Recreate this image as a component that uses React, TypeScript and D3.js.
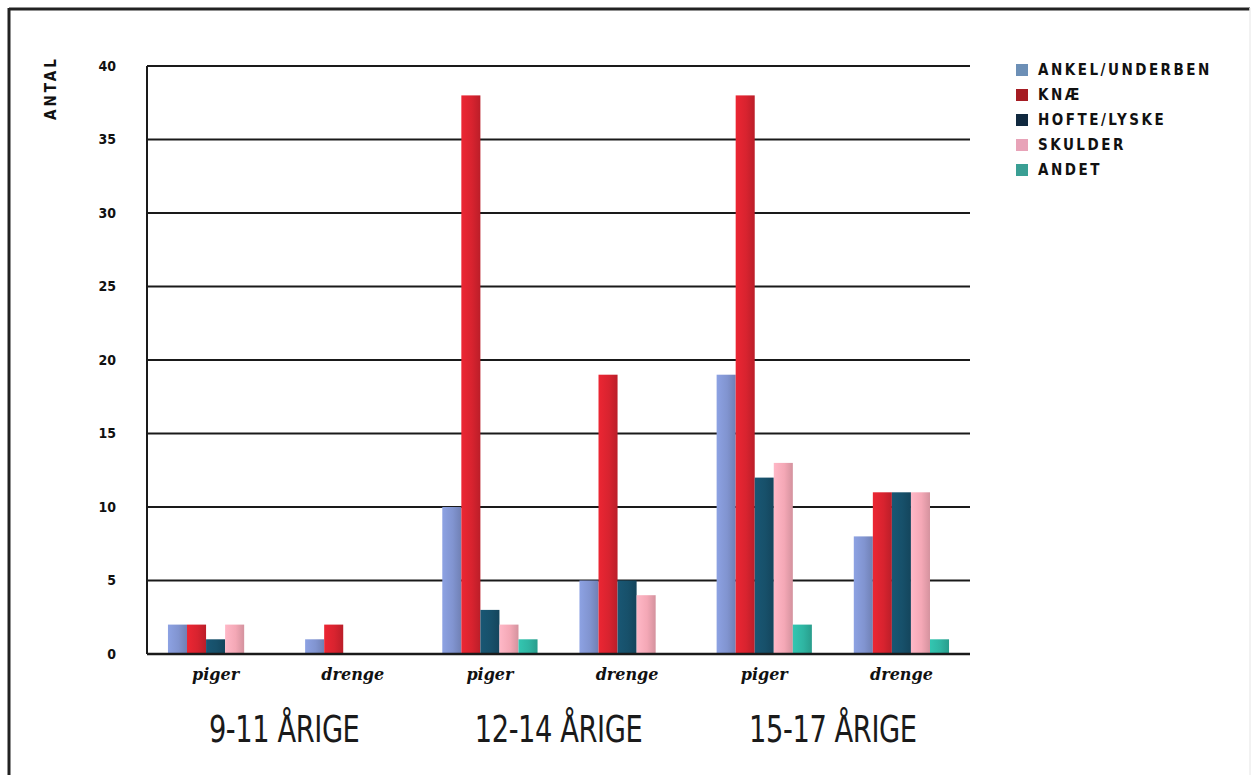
import React, { useEffect, useRef } from "react";
import * as d3 from "d3";

// categories along the x axis
const groups = ["9-11 piger", "9-11 drenge", "12-14 piger", "12-14 drenge", "15-17 piger", "15-17 drenge"];
const groupLabels = ["piger", "drenge", "piger", "drenge", "piger", "drenge"];
const ageLabels = ["9-11 ÅRIGE", "12-14 ÅRIGE", "15-17 ÅRIGE"];

// series (injury site)
const series = ["ANKEL/UNDERBEN", "KNÆ", "HOFTE/LYSKE", "SKULDER", "ANDET"];
const ankel = [2, 1, 10, 5, 19, 8];
const knae = [2, 2, 38, 19, 38, 11];
const hofte = [1, 0, 3, 5, 12, 11];
const skulder = [2, 0, 2, 4, 13, 11];
const andet = [0, 0, 1, 0, 2, 1];

const yTicks = [0, 5, 10, 15, 20, 25, 30, 35, 40];

const barColors = ["#8194d0", "#d8232f", "#17506a", "#f4a8b6", "#2fb5a2"];
const legendColors = ["#6c8fb6", "#a51c23", "#10293f", "#e8a3b8", "#3a9f94"];

const BarChart = () => {
  const svgRef = useRef(null);

  useEffect(() => {
    const width = 1254;
    const height = 775;
    const margin = { top: 66, right: 284, bottom: 121, left: 147 };

    const svg = d3.select(svgRef.current).attr("width", width).attr("height", height);
    svg.selectAll("*").remove();

    // outer frame
    svg.append("line").attr("x1", 9).attr("x2", 1250).attr("y1", 9).attr("y2", 9)
      .attr("stroke", "#222").attr("stroke-width", 3);
    svg.append("line").attr("x1", 9).attr("x2", 9).attr("y1", 8).attr("y2", 775)
      .attr("stroke", "#222").attr("stroke-width", 3);
    svg.append("line").attr("x1", 1250).attr("x2", 1250).attr("y1", 8).attr("y2", 775)
      .attr("stroke", "#eee").attr("stroke-width", 1.5);

    // gradients for the bars
    const defs = svg.append("defs");
    barColors.forEach((c, i) => {
      const g = defs.append("linearGradient").attr("id", `bar-grad-${i}`)
        .attr("x1", "0%").attr("x2", "100%").attr("y1", "0%").attr("y2", "0%");
      g.append("stop").attr("offset", "0%").attr("stop-color", d3.color(c).brighter(0.25).toString());
      g.append("stop").attr("offset", "55%").attr("stop-color", c);
      g.append("stop").attr("offset", "100%").attr("stop-color", d3.color(c).darker(0.4).toString());
    });

    const x0 = d3.scaleBand().domain(groups).range([margin.left, width - margin.right]).paddingInner(0);
    const x1 = d3.scaleBand().domain(series).range([0, x0.bandwidth()]).paddingInner(0).paddingOuter(1.1);
    const y = d3.scaleLinear().domain([0, 40]).range([height - margin.bottom, margin.top]);

    // gridlines
    svg.append("g")
      .selectAll("line")
      .data(yTicks)
      .enter()
      .append("line")
      .attr("x1", margin.left)
      .attr("x2", width - margin.right)
      .attr("y1", (d) => y(d))
      .attr("y2", (d) => y(d))
      .attr("stroke", "#1a1a1a")
      .attr("stroke-width", 2);

    // y tick labels
    svg.append("g")
      .selectAll("text")
      .data(yTicks)
      .enter()
      .append("text")
      .attr("x", 116)
      .attr("y", (d) => y(d))
      .attr("dy", "0.35em")
      .attr("text-anchor", "end")
      .attr("font-family", "'DejaVu Sans Condensed', 'DejaVu Sans'")
      .attr("font-weight", "bold")
      .attr("font-size", 14)
      .attr("fill", "#111")
      .text((d) => d);

    // y axis title
    svg.append("text")
      .attr("transform", `translate(56, 88) rotate(-90)`)
      .attr("text-anchor", "middle")
      .attr("font-family", "'DejaVu Sans Condensed', 'DejaVu Sans'")
      .attr("font-weight", "bold")
      .attr("font-size", 15)
      .attr("letter-spacing", 3)
      .attr("fill", "#111")
      .text("ANTAL");

    // bars
    const values = [ankel, knae, hofte, skulder, andet];
    const rows = groups.map((g, gi) => ({
      group: g,
      bars: series.map((s, si) => ({ key: s, idx: si, value: values[si][gi] })),
    }));

    svg.append("g")
      .selectAll("g")
      .data(rows)
      .enter()
      .append("g")
      .attr("transform", (d) => `translate(${x0(d.group)},0)`)
      .selectAll("rect")
      .data((d) => d.bars.filter((b) => b.value > 0))
      .enter()
      .append("rect")
      .attr("x", (d) => x1(d.key))
      .attr("y", (d) => y(d.value))
      .attr("width", x1.bandwidth())
      .attr("height", (d) => y(0) - y(d.value))
      .attr("fill", (d) => `url(#bar-grad-${d.idx})`);

    // left axis line
    svg.append("line")
      .attr("x1", margin.left).attr("x2", margin.left)
      .attr("y1", y(40)).attr("y2", y(0))
      .attr("stroke", "#1a1a1a").attr("stroke-width", 2);
    // baseline
    svg.append("line")
      .attr("x1", margin.left).attr("x2", width - margin.right)
      .attr("y1", y(0)).attr("y2", y(0))
      .attr("stroke", "#1a1a1a").attr("stroke-width", 2.5);

    // group labels (piger / drenge)
    svg.append("g")
      .selectAll("text")
      .data(groups)
      .enter()
      .append("text")
      .attr("x", (d) => x0(d) + x0.bandwidth() / 2)
      .attr("y", 680)
      .attr("text-anchor", "middle")
      .attr("font-family", "'DejaVu Serif', serif")
      .attr("font-style", "italic")
      .attr("font-weight", "bold")
      .attr("font-size", 16)
      .attr("fill", "#111")
      .text((d, i) => groupLabels[i]);

    // age labels (condensed)
    svg.append("g")
      .selectAll("text")
      .data(ageLabels)
      .enter()
      .append("text")
      .attr("transform", (d, i) => `translate(${x0(groups[i * 2]) + x0.bandwidth()}, 742) scale(0.82, 1)`)
      .attr("text-anchor", "middle")
      .attr("font-family", "'DejaVu Sans Condensed', sans-serif")
      .attr("font-size", 37)
      .attr("letter-spacing", -0.5)
      .attr("fill", "#1a1a1a")
      .text((d) => d);

    // legend
    const legend = svg.append("g").attr("transform", "translate(1016, 70)");
    const item = legend
      .selectAll("g")
      .data(series)
      .enter()
      .append("g")
      .attr("transform", (d, i) => `translate(0, ${i * 25})`);
    item.append("rect")
      .attr("x", 0)
      .attr("y", -6)
      .attr("width", 12)
      .attr("height", 12)
      .attr("fill", (d, i) => legendColors[i]);
    item.append("text")
      .attr("x", 22)
      .attr("y", 0)
      .attr("dy", "0.36em")
      .attr("font-family", "'DejaVu Sans Condensed', 'DejaVu Sans'")
      .attr("font-weight", "bold")
      .attr("font-size", 15)
      .attr("letter-spacing", 2.5)
      .attr("fill", "#111")
      .text((d) => d);
  }, []);

  return <svg ref={svgRef} style={{ position: "absolute", left: 0, top: 0, background: "#fff" }}></svg>;
};

export default function App() {
  return <BarChart />;
}
